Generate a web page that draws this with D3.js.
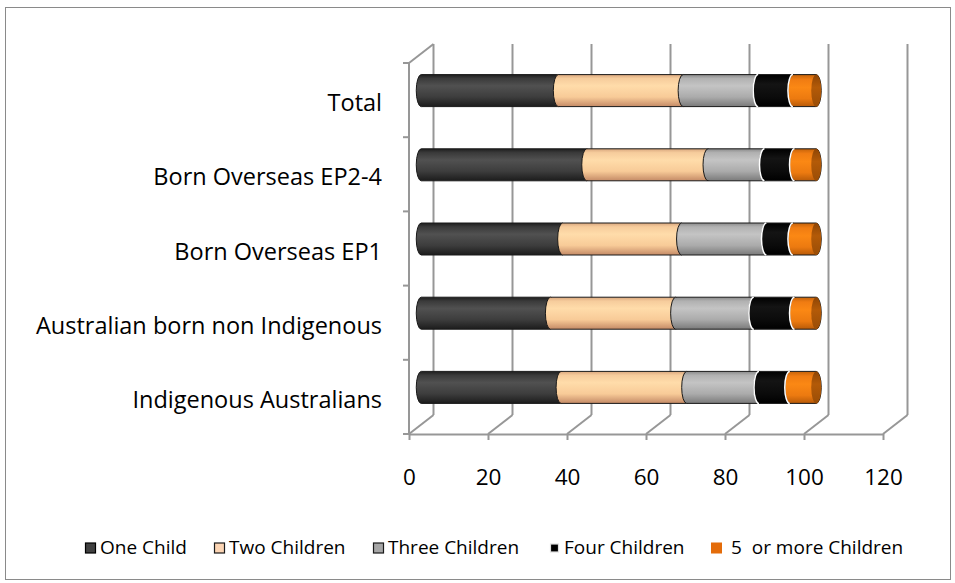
<!DOCTYPE html>
<html>
<head>
<meta charset="utf-8">
<script src="https://cdn.jsdelivr.net/npm/d3@7"></script>
<style>
  html, body { margin: 0; padding: 0; background: #fff; }
  svg { display: block; }
</style>
</head>
<body>
<svg id="chart" width="955" height="583"></svg>
<script>
// Share of mothers by number of children, by birthplace group (per cent)
const categories = [
  "Total",
  "Born Overseas EP2-4",
  "Born Overseas EP1",
  "Australian born non Indigenous",
  "Indigenous Australians"
];
const seriesNames = ["One Child", "Two Children", "Three Children", "Four Children", "5  or more Children"];

// values listed in the same order as categories
const oneChild      = [34.7, 41.9, 35.8, 32.7, 35.4];
const twoChildren   = [31.6, 30.7, 30.1, 31.7, 31.8];
const threeChildren = [19.0, 14.3, 21.5, 19.8, 18.3];
const fourChildren  = [ 8.8,  7.6,  6.7, 10.3,  7.8];
const fivePlus      = [ 5.9,  5.5,  5.9,  5.5,  6.7];

const xTicks = [0, 20, 40, 60, 80, 100, 120];

const seriesValues = [oneChild, twoChildren, threeChildren, fourChildren, fivePlus];

// ---- layout ----
const svg = d3.select("#chart");
const FONT = "'Open Sans', 'DejaVu Sans', sans-serif";
const GRID = "#979797";

const x = d3.scaleLinear().domain([0, 120]).range([409, 883]);
const y = d3.scaleBand().domain(categories).range([63, 434]).padding(0);
const DX = 24.5, DY = -19;          // depth offset of the back wall
const floorY = y.range()[1], topY = y.range()[0];

// outer frame
svg.append("rect")
  .attr("x", 5.5).attr("y", 7.5).attr("width", 945).attr("height", 572)
  .attr("fill", "#fff").attr("stroke", "#8a8a8a").attr("stroke-width", 1);

const frame = svg.append("g").attr("stroke", GRID).attr("stroke-width", 2).attr("fill", "none");

// back wall vertical gridlines and floor diagonals
xTicks.forEach(t => {
  frame.append("line")
    .attr("x1", x(t) + DX).attr("y1", floorY + DY)
    .attr("x2", x(t) + DX).attr("y2", topY + DY);
  frame.append("line")
    .attr("x1", x(t)).attr("y1", floorY)
    .attr("x2", x(t) + DX).attr("y2", floorY + DY);
});

// left side wall: front edge and top diagonal
frame.append("line").attr("x1", x(0)).attr("y1", topY).attr("x2", x(0)).attr("y2", floorY);
frame.append("line").attr("x1", x(0)).attr("y1", topY).attr("x2", x(0) + DX).attr("y2", topY + DY);

// category boundary ticks on the side wall
const bounds = categories.map(c => y(c)).concat([floorY]);
bounds.forEach(b => {
  frame.append("line").attr("x1", x(0) - 6).attr("y1", b).attr("x2", x(0)).attr("y2", b);
});

// value axis along the front edge of the floor
const xAxis = d3.axisBottom(x).tickValues(xTicks).tickSize(6).tickSizeOuter(0).tickPadding(29);
const gx = svg.append("g").attr("transform", `translate(0,${floorY})`).call(xAxis);
gx.select(".domain").attr("stroke", GRID).attr("stroke-width", 2);
gx.selectAll(".tick line").attr("stroke", GRID).attr("stroke-width", 2);
gx.selectAll(".tick text")
  .attr("fill", "#000")
  .style("font-family", FONT)
  .style("font-size", "22.5px");

// category labels
svg.append("g").selectAll("text")
  .data(categories)
  .join("text")
  .attr("x", 382)
  .attr("y", d => y(d) + y.bandwidth() / 2 + 11)
  .attr("text-anchor", "end")
  .style("font-family", FONT)
  .style("font-size", "23.5px")
  .attr("fill", "#000")
  .text(d => d);

// ---- cylinder shading ----
const defs = svg.append("defs");
const shades = [
  { id: "g0", stops: [["0", "#1e1e1e"], ["0.12", "#3a3a3a"], ["0.35", "#515151"], ["0.7", "#3d3d3d"], ["1", "#1c1c1c"]] },
  { id: "g1", stops: [["0", "#d9a77e"], ["0.12", "#f6cc9c"], ["0.35", "#ffdcaa"], ["0.7", "#f8cb98"], ["1", "#c48a66"]] },
  { id: "g2", stops: [["0", "#8a8a8a"], ["0.12", "#b1b1b1"], ["0.35", "#c4c4c4"], ["0.7", "#ababab"], ["1", "#7a7a7a"]] },
  { id: "g3", stops: [["0", "#000"], ["0.3", "#141414"], ["0.7", "#0b0b0b"], ["1", "#000"]] },
  { id: "g4", stops: [["0", "#c4620a"], ["0.15", "#f07c12"], ["0.4", "#fb8814"], ["0.75", "#ec7a10"], ["1", "#b85a08"]] },
  { id: "gcap", stops: [["0", "#8e4505"], ["0.4", "#b35a08"], ["1", "#9a4d06"]] }
];
shades.forEach(s => {
  const g = defs.append("linearGradient").attr("id", s.id)
    .attr("x1", 0).attr("y1", 0).attr("x2", 0).attr("y2", 1);
  s.stops.forEach(([o, c]) => g.append("stop").attr("offset", o).attr("stop-color", c));
});

// bars sit half way into the depth of the plot
const barH = 32, rx = 5, ry = barH / 2;
const bx = v => x(v) + DX / 2;

const stackData = categories.map((c, i) => {
  let acc = 0;
  return seriesValues.map((vals, s) => {
    const v0 = acc; acc += vals[i];
    return { cat: c, s, v0, v1: acc };
  });
});

const bars = svg.append("g");
stackData.forEach(row => {
  const cy = y(row[0].cat) + y.bandwidth() / 2 + DY / 2;
  const top = cy - ry, bot = cy + ry;
  const g = bars.append("g");
  row.forEach(d => {
    const x0 = bx(d.v0), x1 = bx(d.v1);
    g.append("path")
      .attr("d", `M${x0},${top} L${x1},${top} A${rx},${ry} 0 0 1 ${x1},${bot} L${x0},${bot} A${rx},${ry} 0 0 1 ${x0},${top} Z`)
      .attr("fill", `url(#g${d.s})`)
      .attr("stroke", "#1a1a1a")
      .attr("stroke-width", 1);
    if (d.s >= 3) {
      g.append("path")
        .attr("d", `M${x0},${bot} A${rx},${ry} 0 0 1 ${x0},${top}`)
        .attr("fill", "none").attr("stroke", "#fff").attr("stroke-width", 1.5);
    }
  });
  const last = row[row.length - 1];
  g.append("ellipse")
    .attr("cx", bx(last.v1)).attr("cy", cy)
    .attr("rx", rx).attr("ry", ry)
    .attr("fill", "url(#gcap)");
});

// ---- legend ----
const legendX = [85, 214, 373, 549, 711];
const swatch = [
  { fill: "#404040", stroke: "#000", size: 10 },
  { fill: "#fcd5b4", stroke: "#1a1a1a", size: 10 },
  { fill: "#a6a6a6", stroke: "#1a1a1a", size: 10 },
  { fill: "#000", stroke: "#e0e0e0", size: 8 },
  { fill: "#e46c0a", stroke: "none", size: 11 }
];
const legend = svg.append("g");
seriesNames.forEach((name, i) => {
  const sw = swatch[i];
  legend.append("rect")
    .attr("x", legendX[i] + (11 - sw.size) / 2).attr("y", 548 - sw.size / 2)
    .attr("width", sw.size).attr("height", sw.size)
    .attr("fill", sw.fill).attr("stroke", sw.stroke).attr("stroke-width", 1.2);
  legend.append("text")
    .attr("x", legendX[i] + (i === 4 ? 20 : 15)).attr("y", 554)
    .style("font-family", FONT).style("font-size", "19px")
    .style("white-space", "pre")
    .attr("fill", "#000")
    .text(name);
});
</script>
</body>
</html>
